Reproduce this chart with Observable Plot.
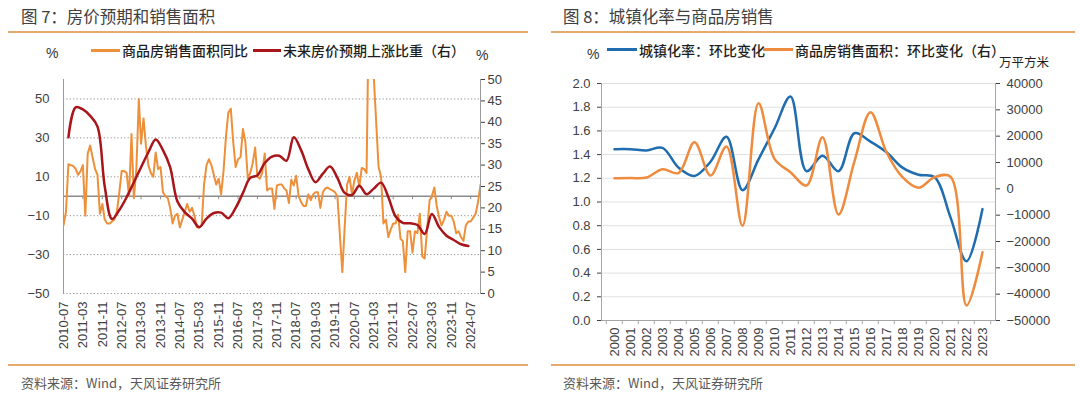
<!DOCTYPE html>
<html>
<head>
<meta charset="utf-8">
<script src="https://cdn.jsdelivr.net/npm/d3@7"></script>
<script src="https://cdn.jsdelivr.net/npm/@observablehq/plot@0.6"></script>
<style>
  html,body{margin:0;padding:0;background:#fff;}
  #page{position:relative;width:1080px;height:398px;overflow:hidden;background:#fff;}
  .t{position:absolute;white-space:nowrap;line-height:1;font-family:"Noto Sans CJK SC","Noto Sans",sans-serif;}
  .title{font-size:16.5px;color:#404040;}
  .leg{font-size:14px;color:#1f1f1f;font-weight:500;}
  .unit{font-size:14px;color:#333;font-family:"Liberation Sans",Arial,sans-serif;}
  .src{font-size:13px;color:#595959;}
  .hr{position:absolute;height:2px;background:#E6AA6E;}
  .sw{position:absolute;height:3px;}
  .chart{position:absolute;}
</style>
</head>
<body>
<div id="page">
  <div class="t title" style="left:21px;top:8px">图 7：房价预期和销售面积</div>
  <div class="hr" style="left:8px;top:31px;width:520px"></div>
  <div class="t unit" style="left:46px;top:46px">%</div>
  <div class="sw" style="left:91px;top:49px;width:29px;background:#EE8F3A"></div>
  <div class="t leg" style="left:122px;top:43px">商品房销售面积同比</div>
  <div class="sw" style="left:253px;top:49px;width:28px;background:#A8151B"></div>
  <div class="t leg" style="left:283px;top:43px">未来房价预期上涨比重（右）</div>
  <div class="t unit" style="left:476px;top:48px">%</div>
  <div id="left" class="chart" style="left:0px;top:70px"></div>
  <div class="hr" style="left:8px;top:364px;width:520px"></div>
  <div class="t src" style="left:21px;top:376px">资料来源：Wind，天风证券研究所</div>

  <div class="t title" style="left:563px;top:8px">图 8：城镇化率与商品房销售</div>
  <div class="hr" style="left:551px;top:31px;width:524px"></div>
  <div class="t unit" style="left:587px;top:47px">%</div>
  <div class="sw" style="left:607px;top:48px;width:30px;background:#1F6DAE"></div>
  <div class="t leg" style="left:639px;top:43px">城镇化率：环比变化</div>
  <div class="sw" style="left:763px;top:48px;width:30px;background:#EE8B3E"></div>
  <div class="t leg" style="left:795px;top:43px">商品房销售面积：环比变化（右）</div>
  <div class="t leg" style="left:999px;top:56px;font-size:12.5px;font-weight:400">万平方米</div>
  <div id="right" class="chart" style="left:540px;top:70px"></div>
  <div class="hr" style="left:551px;top:364px;width:524px"></div>
  <div class="t src" style="left:563px;top:376px">资料来源：Wind，天风证券研究所</div>
</div>
<script>
// ---------- Figure 7 data ----------
// monthly, starting 2010-07 (商品房销售面积同比, %)
const salesStart = "2010-07-01";
const salesYoY = [
  -15, -8, 16.5, 16, 15.5, 14,
  11, 13, 16, -10, 22, 26, 20, 14, 11, -9, -4, -12,
  -14, -14, -13, -12, -8, 2, 13, 13, 12, 0, 32, -1,
  14, 50, 27, 40, 26, 16, 12, 10, 22.5, 14, 15, 2,
  0, -1, -6, -14, -10, -9, -16, -12, -8, -4, -8, -6,
  -10, -16, -16, -15, 6, 16, 19, 16, 11, 6, 9, 1,
  13, 31, 43, 45, 28, 15, 19, 20, 34.5, 28, 9, 12,
  17, 25, 10, 9, 12, 22, 3, 4, 4, -6.5, 5.5, 6,
  6, 4, 3, -3.5, 8.5, 5.5, 10.5, 0, -3, -5, -5, 1,
  -2, 1, 2, 2, -6, 2, 4, 4.5, 3.5, 3, 2, 0,
  -20, -39, -16, 6, 10, 1, 8, 12, 5, 14.5, 14, 12,
  105, 100, 62, 38, 15, 10, -14, -12, -21, -17, -14, -14,
  -9.5, -22, -23, -39, -18, -18, -29, -18, -19, -9, -31, -32,
  -17, -2, 0, 4.5, -5, -11, -15, -12, -8, -10, -10, -13,
  -19, -18, -21, -23, -15, -13, -13, -11, -9, -3, 6
];
// quarterly, starting 2010-09 (未来房价预期上涨比重, %)
const expectStart = "2010-09-01";
const expectUp = [
  36.5, 43.5, 43, 41.5, 39, 25, 17.4, 19.5, 22.5, 26,
  29.5, 33, 36, 33.5, 29.5, 21.5, 19, 17.5, 15.5, 17.5,
  18.8, 18.9, 17.6, 20, 23.5, 27, 27.6, 30.5, 32, 32.2,
  31, 36.5, 33.5, 29, 26, 28, 29.7, 27, 23.5, 23,
  25.2, 23.2, 24.5, 25.9, 22.5, 18, 16.5, 16.4, 16, 13.9,
  18.6, 15.5, 13.5, 12.5, 11.5, 11.1
];
const leftTicks7 = [-50, -30, -10, 10, 30, 50];
const rightTicks7 = [0, 5, 10, 15, 20, 25, 30, 35, 40, 45, 50];
const leftDomain7 = [-50, 60];
const rightDomain7 = [0, 50];
const monthLabelEvery = 8;

// ---------- Figure 8 data ----------
const years = ["2000","2001","2002","2003","2004","2005","2006","2007","2008","2009","2010","2011",
               "2012","2013","2014","2015","2016","2017","2018","2019","2020","2021","2022","2023"];
const urbanChange = [1.446, 1.446, 1.435, 1.457, 1.29, 1.22, 1.34, 1.55, 1.10, 1.36, 1.62, 1.89,
                     1.26, 1.39, 1.26, 1.58, 1.51, 1.42, 1.29, 1.23, 1.21, 0.87, 0.50, 0.94];
const salesChange = [4030, 4100, 4300, 7450, 6000, 17700, 5050, 16070, -14000, 32500, 11400, 6300,
                     1250, 19600, -9760, 10500, 29100, 13900, 4400, 380, 4400, 4600, -44300, -24070];
const leftTicks8 = [0, 0.2, 0.4, 0.6, 0.8, 1.0, 1.2, 1.4, 1.6, 1.8, 2.0];
const rightTicks8 = [-50000, -40000, -30000, -20000, -10000, 0, 10000, 20000, 30000, 40000];
const leftDomain8 = [0, 2];
const rightDomain8 = [-50000, 40000];

// ---------- helpers ----------
const minus = s => String(s).replace("-", "\u2212");
const axisStyle = {fontFamily: '"Liberation Sans", Arial, sans-serif', fontSize: "13px", color: "#404040", background: "transparent", overflow: "visible"};

// ---------- Figure 7 ----------
const s0 = new Date(salesStart), e0 = new Date(expectStart);
const salesData = salesYoY.map((v, i) => ({date: d3.utcMonth.offset(s0, i), v}));
const expectData = expectUp.map((v, i) => ({date: d3.utcMonth.offset(e0, 3 * i), v}));
const map7 = d3.scaleLinear().domain(rightDomain7).range(leftDomain7);
const xTicks7 = d3.range(0, salesYoY.length, monthLabelEvery).map(i => d3.utcMonth.offset(s0, i));

const chart7 = Plot.plot({
  width: 540, height: 290,
  marginLeft: 63, marginRight: 60, marginTop: 9, marginBottom: 67,
  style: axisStyle,
  x: {type: "utc", domain: [salesData[0].date, salesData[salesData.length - 1].date]},
  y: {domain: leftDomain7},
  marks: [
    Plot.gridY(leftTicks7, {stroke: "#8f8f8f", strokeOpacity: 1, strokeDasharray: "1.2,2.2"}),
    Plot.ruleY([0], {stroke: "#8c8c8c", strokeWidth: 1.3}),
    Plot.ruleX(xTicks7, {y1: 0, y2: -1.8, stroke: "#8c8c8c"}),
    Plot.frame({anchor: "left", stroke: "#9a9a9a"}),
    Plot.frame({anchor: "right", stroke: "#9a9a9a"}),
    Plot.axisY(leftTicks7, {anchor: "left", tickSize: 0, tickPadding: 14, label: null, tickFormat: d => minus(d)}),
    Plot.axisY(rightTicks7.map(map7), {anchor: "right", tickSize: 4, tickPadding: 3, label: null,
      tickFormat: d => Math.round(map7.invert(d))}),
    Plot.axisX(xTicks7, {anchor: "bottom", tickSize: 0, tickPadding: 8, tickRotate: -90, label: null,
      tickFormat: d3.utcFormat("%Y-%m"), fontSize: 13}),
    Plot.line(salesData, {x: "date", y: "v", stroke: "#EE8F3A", strokeWidth: 2, clip: true}),
    Plot.line(expectData, {x: "date", y: d => map7(d.v), stroke: "#A8151B", strokeWidth: 2.5, curve: "catmull-rom"})
  ]
});
document.getElementById("left").appendChild(chart7);

// ---------- Figure 8 ----------
const map8 = d3.scaleLinear().domain(rightDomain8).range(leftDomain8);
const data8 = years.map((y, i) => ({year: y, urban: urbanChange[i], sales: salesChange[i]}));
const plotW8 = 540 - 61 - 85;
const step8 = plotW8 / years.length;

const chart8 = Plot.plot({
  width: 540, height: 295,
  marginLeft: 61, marginRight: 85, marginTop: 13, marginBottom: 45,
  style: axisStyle,
  x: {type: "point", domain: years, padding: 0.5},
  y: {domain: leftDomain8},
  marks: [
    Plot.gridY(leftTicks8.filter(d => d > 0), {stroke: "#e0e0e0", strokeOpacity: 1}),
    Plot.frame({anchor: "left", stroke: "#a6a6a6"}),
    Plot.frame({anchor: "right", stroke: "#a6a6a6"}),
    Plot.frame({anchor: "bottom", stroke: "#a6a6a6"}),
    Plot.ruleX(years, {x: d => d, y1: 0, y2: -0.035, dx: -step8 / 2, stroke: "#a6a6a6"}),
    Plot.ruleX(years.slice(-1), {x: d => d, y1: 0, y2: -0.035, dx: step8 / 2, stroke: "#a6a6a6"}),
    Plot.axisY(leftTicks8, {anchor: "left", tickSize: 4, tickPadding: 7, label: null, tickFormat: d3.format(".1f")}),
    Plot.axisY(rightTicks8.map(map8), {anchor: "right", tickSize: 4, tickPadding: 7, label: null,
      tickFormat: d => minus(Math.round(map8.invert(d)))}),
    Plot.axisX(years, {anchor: "bottom", tickSize: 0, tickPadding: 7, tickRotate: -90, label: null, fontSize: 13}),
    Plot.line(data8, {x: "year", y: "urban", stroke: "#1F6DAE", strokeWidth: 2.5, curve: "catmull-rom"}),
    Plot.line(data8, {x: "year", y: d => map8(d.sales), stroke: "#EE8B3E", strokeWidth: 2.5, curve: "catmull-rom"})
  ]
});
document.getElementById("right").appendChild(chart8);
</script>
</body>
</html>
